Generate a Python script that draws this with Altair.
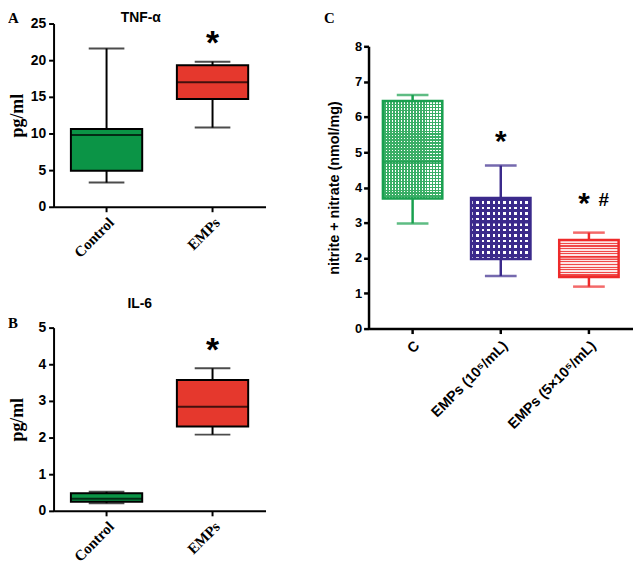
import altair as alt
import pandas as pd

SANS = "Liberation Sans"
SERIF = "Liberation Serif"

# ---------------- Panel A: TNF-alpha ----------------
a_groups = ["Control", "EMPs"]
a_min = [3.3, 10.8]
a_q1 = [4.9, 14.7]
a_med = [9.8, 17.0]
a_q3 = [10.6, 19.3]
a_max = [21.6, 19.8]
a_sig_group = ["EMPs"]
a_sig_text = ["*"]
a_sig_y = [20.9]

# ---------------- Panel B: IL-6 ----------------
b_groups = ["Control", "EMPs"]
b_min = [0.21, 2.08]
b_q1 = [0.25, 2.30]
b_med = [0.33, 2.84]
b_q3 = [0.48, 3.57]
b_max = [0.52, 3.89]
b_sig_group = ["EMPs"]
b_sig_text = ["*"]
b_sig_y = [4.08]

# ---------------- Panel C: nitrite + nitrate ----------------
c_groups = ["C", "EMPs (10⁵/mL)", "EMPs (5×10⁵/mL)"]
c_min = [2.98, 1.49, 1.19]
c_q1 = [3.69, 1.97, 1.46]
c_med = [4.72, 3.01, 2.02]
c_q3 = [6.45, 3.70, 2.51]
c_max = [6.62, 4.62, 2.72]
c_star1_group = ["EMPs (10⁵/mL)"]
c_star1_y = [5.03]
c_star2_group = ["EMPs (5×10⁵/mL)"]
c_star2_y = [3.29]
c_hash_group = ["EMPs (5×10⁵/mL)"]
c_hash_y = [3.48]

AB_FILL = ["#0b9446", "#e5382d"]
C_COL = ["#19a04f", "#3b2a8b", "#ee2a2a"]


def stripes(color, n, duty, horizontal):
    stops = []
    for i in range(n):
        a, b, e = i / n, (i + duty) / n, (i + 1) / n
        stops += [
            alt.GradientStop(offset=a, color=color),
            alt.GradientStop(offset=b, color=color),
            alt.GradientStop(offset=b, color="transparent"),
            alt.GradientStop(offset=e, color="transparent"),
        ]
    if horizontal:
        return alt.LinearGradient(gradient="linear", stops=stops, x1=0, x2=0, y1=0, y2=1)
    return alt.LinearGradient(gradient="linear", stops=stops, x1=0, x2=1, y1=0, y2=0)


def text_layer(txt, x, y, font, size, align="left"):
    return alt.Chart(pd.DataFrame({"t": [txt]})).mark_text(
        font=font, fontSize=size, fontWeight="bold", align=align,
        baseline="alphabetic", color="black"
    ).encode(x=alt.value(x), y=alt.value(y), text="t:N")


def ab_panel(groups, mins, q1s, meds, q3s, maxs, ymax, ystep,
             sig_g, sig_t, sig_y, title, title_x, title_y, letter, letter_y):
    df = pd.DataFrame(dict(g=groups, lo=mins, q1=q1s, med=meds, q3=q3s, hi=maxs,
                           col=AB_FILL))
    xs = alt.Scale(domain=groups, paddingInner=0, paddingOuter=0)
    xax = alt.Axis(title=None, labelAngle=-45, labelFont=SERIF, labelFontSize=15,
                   labelFontWeight="bold", labelColor="black", domainColor="black",
                   domainWidth=2, tickColor="black", tickWidth=2, tickSize=5,
                   labelPadding=3)
    ys = alt.Scale(domain=[0, ymax], nice=False, zero=True)
    yax = alt.Axis(title="pg/ml", values=list(range(0, ymax + 1, ystep)), grid=False,
                   titleFont=SERIF, titleFontSize=18, titleFontWeight="bold",
                   titleColor="black", titleX=-31, titleBaseline="alphabetic",
                   labelFont=SANS, labelFontSize=14, labelFontWeight="bold",
                   labelColor="black", domainColor="black", domainWidth=2,
                   tickColor="black", tickWidth=2, tickSize=5, labelPadding=3)
    base = alt.Chart(df)
    X = alt.X("g:N", scale=xs, axis=xax)

    def Y(f):
        return alt.Y(f, scale=ys, axis=yax)

    w_lo = base.mark_rule(color="black", strokeWidth=2).encode(x=X, y=Y("lo:Q"), y2="q1:Q")
    w_hi = base.mark_rule(color="black", strokeWidth=2).encode(x=X, y=Y("q3:Q"), y2="hi:Q")
    c_lo = base.mark_tick(size=36, thickness=2, color="black").encode(x=X, y=Y("lo:Q"))
    c_hi = base.mark_tick(size=36, thickness=2, color="black").encode(x=X, y=Y("hi:Q"))
    box = base.mark_bar(size=72, stroke="black", strokeWidth=2).encode(
        x=X, y=Y("q1:Q"), y2="q3:Q", color=alt.Color("col:N", scale=None))
    med = base.mark_tick(size=72, thickness=2, color="black").encode(x=X, y=Y("med:Q"))
    sig = alt.Chart(pd.DataFrame(dict(g=sig_g, t=sig_t, y=sig_y))).mark_text(
        font=SANS, fontSize=34, fontWeight="bold", baseline="alphabetic", color="black"
    ).encode(x=X, y=Y("y:Q"), text="t:N")
    ttl = text_layer(title, title_x, title_y, SANS, 14, align="center")
    let = text_layer(letter, -46, letter_y, SERIF, 15)
    return alt.layer(w_lo, w_hi, c_lo, c_hi, box, med, sig, ttl, let).properties(
        width=214, height=185)


panel_a = ab_panel(a_groups, a_min, a_q1, a_med, a_q3, a_max, 25, 5,
                   a_sig_group, a_sig_text, a_sig_y, "TNF-α", 88, -2, "A", -1)
panel_b = ab_panel(b_groups, b_min, b_q1, b_med, b_q3, b_max, 5, 1,
                   b_sig_group, b_sig_text, b_sig_y, "IL-6", 87, -20, "B", 0)

# ---------------- Panel C ----------------
cdf = pd.DataFrame(dict(g=c_groups, lo=c_min, q1=c_q1, med=c_med, q3=c_q3, hi=c_max,
                        col=C_COL))
cxs = alt.Scale(domain=c_groups, paddingInner=0, paddingOuter=0)
cxax = alt.Axis(title=None, labelAngle=-45, labelFont=SANS, labelFontSize=14.5,
                labelFontWeight="bold", labelColor="black", domainColor="black",
                domainWidth=2.5, tickColor="black", tickWidth=2.5, tickSize=5,
                labelPadding=5)
cys = alt.Scale(domain=[0, 8], nice=False, zero=True)
cyax = alt.Axis(title="nitrite + nitrate (nmol/mg)", values=list(range(0, 9)), grid=False,
                titleFont=SANS, titleFontSize=14.5, titleFontWeight="bold",
                titleColor="black", titleX=-30, titleBaseline="alphabetic",
                labelFont=SANS, labelFontSize=13, labelFontWeight="bold",
                labelColor="black", domainColor="black", domainWidth=2.5,
                tickColor="black", tickWidth=2.5, tickSize=5, labelPadding=2)
cb = alt.Chart(cdf)
CX = alt.X("g:N", scale=cxs, axis=cxax)
CCOL = alt.Color("col:N", scale=None)


def CY(f):
    return alt.Y(f, scale=cys, axis=cyax)


def c_text(groups, ys, txt, size, dx):
    return alt.Chart(pd.DataFrame(dict(g=groups, y=ys, t=[txt] * len(groups)))).mark_text(
        font=SANS, fontSize=size, fontWeight="bold", baseline="alphabetic",
        color="black", dx=dx,
    ).encode(x=CX, y=CY("y:Q"), text="t:N")


c_layers = [
    cb.mark_rule(strokeWidth=2.5).encode(x=CX, y=CY("lo:Q"), y2="q1:Q", color=CCOL),
    cb.mark_rule(strokeWidth=2.5).encode(x=CX, y=CY("q3:Q"), y2="hi:Q", color=CCOL),
    cb.mark_tick(size=32, thickness=2.5).encode(x=CX, y=CY("lo:Q"), color=CCOL),
    cb.mark_tick(size=32, thickness=2.5).encode(x=CX, y=CY("hi:Q"), color=CCOL),
]
# patterned fills (checkers / stripes), one group at a time
patterns = [
    ["#3aae66", stripes("white", 20, 0.5, False), stripes("#3aae66", 33, 0.5, True)],
    ["#3b2a8b", stripes("white", 11, 0.45, False), stripes("#3b2a8b", 11, 0.55, True)],
    ["#fde4e4", stripes("#f04848", 14, 0.45, True)],
]
for gname, fills in zip(c_groups, patterns):
    sub = cb.transform_filter(alt.datum.g == gname)
    for f in fills:
        c_layers.append(sub.mark_bar(size=60, fill=f).encode(x=CX, y=CY("q1:Q"), y2="q3:Q"))
c_layers += [
    cb.mark_bar(size=60, fill="transparent", strokeWidth=2.5).encode(
        x=CX, y=CY("q1:Q"), y2="q3:Q", stroke=alt.Stroke("col:N", scale=None)),
    cb.mark_tick(size=60, thickness=2.5).encode(x=CX, y=CY("med:Q"), color=CCOL),
    c_text(c_star1_group, c_star1_y, "*", 30, 0),
    c_text(c_star2_group, c_star2_y, "*", 30, -5),
    c_text(c_hash_group, c_hash_y, "#", 19, 15),
    text_layer("C", -45, -24, SERIF, 15),
]
panel_c = alt.layer(*c_layers).properties(width=267, height=285)

spacer = alt.Chart(pd.DataFrame({"t": [""]})).mark_text().encode(
    x=alt.value(0), y=alt.value(0), text="t:N").properties(width=267, height=3)

left = alt.vconcat(panel_a, panel_b, spacing=122, bounds="flush")
right = alt.vconcat(spacer, panel_c, spacing=20, bounds="flush")

# nested flush columns report no width, so the spacing spans the left column (214) + gap (104)
chart = alt.hconcat(left, right, spacing=318, bounds="flush").properties(
    padding=0, background="white"
).configure_view(stroke=None)

chart.save("out.html", embed_options={"renderer": "svg", "actions": False})
